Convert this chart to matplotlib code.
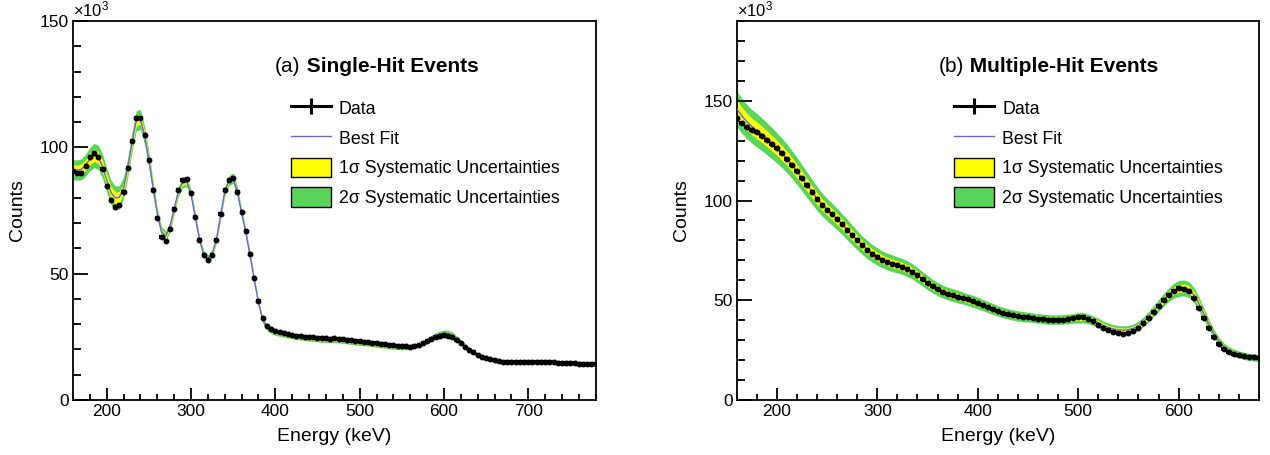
import matplotlib
matplotlib.use("Agg")
import matplotlib.pyplot as plt
import numpy as np
from matplotlib.lines import Line2D
from matplotlib.patches import Patch
from matplotlib.ticker import MultipleLocator

plt.rcParams["font.family"] = ["Liberation Sans", "DejaVu Sans"]
plt.rcParams["mathtext.default"] = "regular"

# ---- data (counts in units of 10^3), 5 keV bins ----
single_energy = np.arange(160, 781, 5)
single_data = [
    90.5, 89.8, 89.8, 92.5, 96.0, 97.7, 96.2, 91.5, 84.5, 79.3,
    76.2, 77.0, 82.3, 92.0, 102.5, 111.5, 111.6, 105.0, 94.8, 83.1,
    72.2, 64.5, 62.8, 67.8, 75.4, 83.0, 87.0, 87.4, 82.0, 72.5,
    63.3, 57.3, 55.4, 57.4, 63.3, 73.5, 83.0, 87.2, 88.0, 82.2,
    74.3, 66.7, 57.8, 48.3, 39.1, 32.5, 29.4, 28.1, 27.3, 26.8,
    26.4, 26.1, 25.8, 25.5, 25.3, 25.1, 24.9, 24.8, 24.6, 24.5,
    24.4, 24.3, 24.4, 24.2, 24.0, 23.8, 23.6, 23.4, 23.2, 23.1,
    22.9, 22.7, 22.5, 22.3, 22.1, 21.9, 21.7, 21.5, 21.3, 21.2,
    21.1, 21.3, 21.7, 22.4, 23.2, 24.1, 24.9, 25.4, 25.7, 25.5,
    24.9, 23.8, 22.4, 21.0, 19.8, 18.8, 17.9, 17.2, 16.6, 16.1,
    15.7, 15.4, 15.2, 15.0, 14.9, 14.9, 14.9, 14.9, 15.0, 15.0,
    15.0, 15.1, 15.0, 15.0, 14.9, 14.8, 14.8, 14.7, 14.6, 14.5,
    14.4, 14.4, 14.3, 14.2, 14.1,
]
single_fit = [
    91.1, 91.0, 91.3, 93.0, 95.3, 96.8, 96.0, 92.5, 87.0, 82.2,
    80.0, 80.2, 84.0, 92.0, 102.0, 110.5, 111.0, 104.5, 95.0, 84.0,
    73.8, 66.6, 64.8, 68.6, 75.6, 82.5, 86.0, 86.4, 81.6, 72.4,
    63.6, 57.8, 56.0, 57.8, 63.4, 73.0, 82.5, 86.8, 87.8, 82.4,
    74.0, 66.2, 57.3, 47.6, 38.4, 31.8, 28.6, 27.4, 26.6, 26.2,
    25.8, 25.5, 25.2, 24.9, 24.7, 24.5, 24.3, 24.2, 24.0, 23.9,
    23.8, 23.7, 23.7, 23.6, 23.4, 23.2, 23.0, 22.8, 22.6, 22.5,
    22.3, 22.1, 21.9, 21.7, 21.5, 21.3, 21.1, 21.0, 20.9, 20.9,
    21.0, 21.3, 21.8, 22.6, 23.5, 24.5, 25.4, 26.1, 26.5, 26.4,
    25.7, 24.4, 22.8, 21.3, 19.9, 18.8, 17.9, 17.1, 16.5, 16.0,
    15.6, 15.3, 15.1, 14.9, 14.8, 14.8, 14.8, 14.8, 14.9, 14.9,
    14.9, 14.9, 14.9, 14.8, 14.8, 14.7, 14.6, 14.5, 14.5, 14.4,
    14.3, 14.3, 14.2, 14.1, 14.0,
]
single_sig1 = [
    2.0, 2.0, 2.1, 2.2, 2.3, 2.4, 2.4, 2.4, 2.4, 2.4,
    2.4, 2.3, 2.1, 1.9, 1.9, 2.0, 2.0, 1.8, 1.5, 1.3,
    1.1, 1.0, 1.0, 1.0, 1.0, 1.0, 1.0, 1.0, 0.9, 0.8,
    0.7, 0.7, 0.7, 0.7, 0.7, 0.8, 0.9, 1.0, 1.0, 0.9,
    0.8, 0.7, 0.7, 0.6, 0.6, 0.6, 0.6, 0.5, 0.5, 0.5,
    0.5, 0.5, 0.5, 0.5, 0.5, 0.5, 0.5, 0.5, 0.5, 0.5,
    0.5, 0.5, 0.5, 0.5, 0.5, 0.5, 0.5, 0.5, 0.5, 0.5,
    0.5, 0.5, 0.5, 0.5, 0.5, 0.5, 0.5, 0.5, 0.5, 0.5,
    0.5, 0.5, 0.5, 0.5, 0.5, 0.5, 0.6, 0.6, 0.6, 0.6,
    0.6, 0.5, 0.5, 0.5, 0.4, 0.4, 0.4, 0.4, 0.4, 0.4,
    0.4, 0.4, 0.4, 0.4, 0.4, 0.4, 0.4, 0.4, 0.4, 0.4,
    0.4, 0.4, 0.4, 0.4, 0.4, 0.4, 0.4, 0.4, 0.4, 0.4,
    0.4, 0.4, 0.4, 0.4, 0.4,
]

multi_energy = np.arange(160, 681, 5)
multi_data = [
    141.5, 139.0, 137.0, 135.5, 134.5, 132.5, 130.5, 128.5, 126.3, 123.8,
    121.0, 118.0, 114.7, 111.2, 107.7, 104.3, 100.8, 97.8, 95.2, 93.0,
    90.6, 88.0, 85.3, 82.6, 80.0, 77.5, 75.3, 73.4, 71.8, 70.3,
    69.2, 68.3, 67.6, 66.8, 65.8, 64.4, 62.6, 60.6, 58.6, 56.9,
    55.4, 54.2, 53.2, 52.5, 51.8, 51.1, 50.4, 49.6, 48.7, 47.7,
    46.6, 45.6, 44.7, 43.8, 43.1, 42.5, 42.0, 41.7, 41.4, 41.1,
    40.8, 40.5, 40.2, 40.1, 40.1, 40.2, 40.5, 41.0, 41.5, 41.6,
    40.8, 39.4, 37.8, 36.3, 35.0, 34.0, 33.4, 33.3, 33.6, 34.6,
    36.2, 38.6, 41.3, 44.3, 47.3, 50.2, 52.8, 54.8, 55.9, 55.8,
    54.5, 51.2, 46.3, 41.0, 36.0, 31.5, 28.0, 25.6, 24.0, 23.0,
    22.4, 22.0, 21.7, 21.5, 21.3,
]
multi_fit = [
    146.0, 142.5, 139.6, 137.2, 135.2, 133.2, 131.0, 128.8, 126.4, 123.9,
    121.1, 118.1, 114.8, 111.3, 107.8, 104.4, 101.0, 98.0, 95.4, 93.1,
    90.7, 88.1, 85.4, 82.7, 80.1, 77.6, 75.4, 73.5, 71.9, 70.5,
    69.4, 68.5, 67.7, 66.9, 65.8, 64.4, 62.6, 60.7, 58.8, 57.1,
    55.6, 54.4, 53.4, 52.6, 51.9, 51.1, 50.3, 49.5, 48.6, 47.6,
    46.6, 45.6, 44.7, 43.9, 43.2, 42.6, 42.1, 41.8, 41.5, 41.2,
    40.9, 40.6, 40.4, 40.3, 40.3, 40.4, 40.6, 40.9, 41.2, 41.2,
    40.7, 39.8, 38.6, 37.4, 36.4, 35.6, 35.1, 35.0, 35.2, 35.9,
    37.2, 39.3, 41.8, 44.6, 47.4, 50.2, 52.7, 54.7, 55.9, 56.2,
    55.4, 52.8, 48.4, 43.2, 38.0, 33.3, 29.5, 26.8, 24.9, 23.7,
    22.8, 22.1, 21.6, 21.3, 21.1,
]
multi_sig1 = [
    4.5, 4.4, 4.3, 4.2, 4.2, 4.1, 4.0, 3.9, 3.8, 3.7,
    3.6, 3.5, 3.4, 3.3, 3.2, 3.1, 3.0, 2.9, 2.8, 2.8,
    2.7, 2.6, 2.6, 2.5, 2.4, 2.3, 2.3, 2.2, 2.2, 2.1,
    2.1, 2.1, 2.0, 2.0, 2.0, 1.9, 1.9, 1.8, 1.8, 1.7,
    1.7, 1.6, 1.6, 1.6, 1.6, 1.5, 1.5, 1.5, 1.5, 1.4,
    1.4, 1.4, 1.3, 1.3, 1.3, 1.3, 1.3, 1.3, 1.2, 1.2,
    1.2, 1.2, 1.2, 1.2, 1.2, 1.2, 1.2, 1.2, 1.3, 1.3,
    1.2, 1.2, 1.2, 1.1, 1.1, 1.1, 1.1, 1.1, 1.1, 1.1,
    1.2, 1.2, 1.3, 1.4, 1.5, 1.6, 1.7, 1.9, 2.0, 2.0,
    2.0, 1.9, 1.7, 1.5, 1.3, 1.1, 1.0, 0.9, 0.9, 0.9,
    0.9, 0.9, 0.9, 0.9, 0.9,
]

YELLOW = "#ffff00"
GREEN = "#58d458"
BLUE = "#6464e6"
W, H = 1270, 455


def draw_panel(ax, energy, data, fit, sig1, xmax, ymax, tag, title):
    fit = np.asarray(fit)
    sig1 = np.asarray(sig1)
    ax.fill_between(energy, fit - 2 * sig1, fit + 2 * sig1, color=GREEN, lw=0, zorder=1)
    ax.fill_between(energy, fit - sig1, fit + sig1, color=YELLOW, lw=0, zorder=2)
    ax.plot(energy, fit, color=BLUE, lw=1.0, zorder=3)
    # bin-width bars make the dense data read as a thick line, as in ROOT
    ax.errorbar(energy, data, xerr=2.5, fmt="o", ms=3.2, color="k",
                elinewidth=3.0, capsize=0, zorder=4)

    ax.set_xlim(160, xmax)
    ax.set_ylim(0, ymax)
    ax.xaxis.set_major_locator(MultipleLocator(100))
    ax.xaxis.set_minor_locator(MultipleLocator(20))
    ax.yaxis.set_major_locator(MultipleLocator(50))
    ax.yaxis.set_minor_locator(MultipleLocator(10))
    ax.tick_params(which="both", direction="in", top=False, right=False,
                   width=1.3, labelsize=12.5, pad=3)
    ax.tick_params(axis="y", which="major", length=11)
    ax.tick_params(axis="y", which="minor", length=6)
    ax.tick_params(axis="x", which="major", length=8.5)
    ax.tick_params(axis="x", which="minor", length=4.5)
    for sp in ax.spines.values():
        sp.set_linewidth(1.3)

    ax.set_xlabel("Energy (keV)", fontsize=14)
    ax.set_ylabel("Counts", fontsize=14)
    ax.xaxis.set_label_coords(0.5, -0.075)
    ax.yaxis.set_label_coords(-0.09, 0.5)
    ax.text(0.0, 1.003, "×10$^{3}$", transform=ax.transAxes,
            ha="left", va="bottom", fontsize=12)

    t1 = ax.text(0.3865, 0.856, tag, transform=ax.transAxes,
                 fontsize=15, va="bottom", ha="left")
    ax.annotate(" " + title, xy=(1, 0), xycoords=t1, va="bottom", ha="left",
                fontsize=15, fontweight="bold")

    handles = [
        Line2D([], [], color="k", lw=2.2, marker="|", ms=12, mew=2.2),
        Line2D([], [], color=BLUE, lw=1.0),
        Patch(facecolor=YELLOW, edgecolor="k", lw=1.0),
        Patch(facecolor=GREEN, edgecolor="k", lw=1.0),
    ]
    labels = ["Data", "Best Fit", "1σ Systematic Uncertainties",
              "2σ Systematic Uncertainties"]
    ax.legend(handles, labels, loc="upper left", bbox_to_anchor=(0.417, 0.7955),
              frameon=False, fontsize=12.8, handlelength=2.25, handleheight=1.3,
              labelspacing=0.56, handletextpad=0.45, borderpad=0, borderaxespad=0)


def main():
    fig = plt.figure(figsize=(W / 100, H / 100), dpi=100)
    ax_a = fig.add_axes([73 / W, 55 / H, 522.7 / W, 379 / H])
    ax_b = fig.add_axes([736.7 / W, 55 / H, 522.3 / W, 379 / H])

    draw_panel(ax_a, single_energy, single_data, single_fit, single_sig1,
               780, 150, "(a)", "Single-Hit Events")
    draw_panel(ax_b, multi_energy, multi_data, multi_fit, multi_sig1,
               680, 190, "(b)", "Multiple-Hit Events")

    fig.savefig("out.png", dpi=100)


if __name__ == "__main__":
    main()
